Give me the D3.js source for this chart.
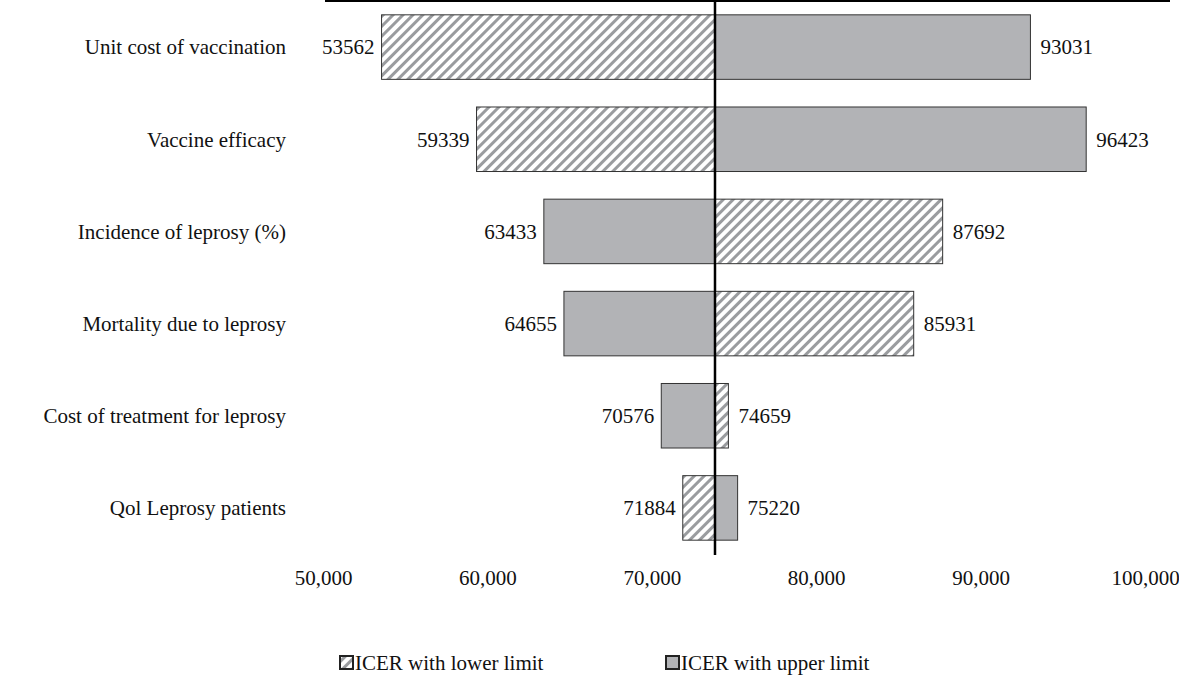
<!DOCTYPE html>
<html>
<head>
<meta charset="utf-8">
<script src="https://cdn.jsdelivr.net/npm/d3@7"></script>
<style>
  body { margin: 0; background: #fff; }
  text { font-family: "Liberation Serif", "Times New Roman", serif; font-size: 21px; fill: #111; }
</style>
</head>
<body>
<div id="chart"></div>
<script>
var categories = ['Unit cost of vaccination', 'Vaccine efficacy', 'Incidence of leprosy (%)',
  'Mortality due to leprosy', 'Cost of treatment for leprosy', 'Qol Leprosy patients'];
var low_values = [53562, 59339, 63433, 64655, 70576, 71884];
var high_values = [93031, 96423, 87692, 85931, 74659, 75220];
// which series is drawn on the left side of the base value
var left_series = ['lower', 'lower', 'upper', 'upper', 'upper', 'lower'];
var base_value = 73844;
var x_ticks = [50000, 60000, 70000, 80000, 90000, 100000];
var legend_labels = ['ICER with lower limit', 'ICER with upper limit'];

var chart_width = 1179;
var chart_height = 677;

var svg = d3.select('#chart')
  .append('svg')
  .attr('width', chart_width)
  .attr('height', chart_height);

// hatch pattern
var pat = svg.append('defs').append('pattern')
  .attr('id', 'hatch')
  .attr('patternUnits', 'userSpaceOnUse')
  .attr('width', 7).attr('height', 7)
  .attr('patternTransform', 'rotate(45)');
pat.append('rect').attr('width', 7).attr('height', 7).attr('fill', '#fff');
pat.append('rect').attr('width', 3).attr('height', 7).attr('fill', '#9a9c9f');

var x_scale = d3.scaleLinear()
  .domain([50000, 100000])
  .range([323, 1145]);

var y_scale = d3.scaleBand()
  .domain(categories)
  .range([1, 554])
  .paddingInner(0.3)
  .paddingOuter(0.15);

// top axis line
svg.append('line')
  .attr('x1', 325).attr('x2', 1170)
  .attr('y1', 1).attr('y2', 1)
  .attr('stroke', '#000').attr('stroke-width', 2);

// bars
var rows = categories.map(function(c, i) {
  return { cat: c, low: low_values[i], high: high_values[i], left: left_series[i] };
});

var g = svg.selectAll('.row').data(rows).enter().append('g');

g.append('rect')
  .attr('x', (d) => x_scale(d.low))
  .attr('y', (d) => y_scale(d.cat))
  .attr('width', (d) => x_scale(base_value) - x_scale(d.low))
  .attr('height', y_scale.bandwidth())
  .attr('fill', (d) => d.left === 'lower' ? 'url(#hatch)' : '#b2b3b6')
  .attr('stroke', '#333').attr('stroke-width', 1);

g.append('rect')
  .attr('x', x_scale(base_value))
  .attr('y', (d) => y_scale(d.cat))
  .attr('width', (d) => x_scale(d.high) - x_scale(base_value))
  .attr('height', y_scale.bandwidth())
  .attr('fill', (d) => d.left === 'lower' ? '#b2b3b6' : 'url(#hatch)')
  .attr('stroke', '#333').attr('stroke-width', 1);

// value labels
g.append('text')
  .attr('x', (d) => x_scale(d.low) - 7)
  .attr('y', (d) => y_scale(d.cat) + y_scale.bandwidth() / 2)
  .attr('dy', '0.35em')
  .attr('text-anchor', 'end')
  .text((d) => d.low);

g.append('text')
  .attr('x', (d) => x_scale(d.high) + 10)
  .attr('y', (d) => y_scale(d.cat) + y_scale.bandwidth() / 2)
  .attr('dy', '0.35em')
  .text((d) => d.high);

// category labels
g.append('text')
  .attr('x', 286)
  .attr('y', (d) => y_scale(d.cat) + y_scale.bandwidth() / 2)
  .attr('dy', '0.35em')
  .attr('text-anchor', 'end')
  .text((d) => d.cat);

// base line
svg.append('line')
  .attr('x1', x_scale(base_value)).attr('x2', x_scale(base_value))
  .attr('y1', 0).attr('y2', 555)
  .attr('stroke', '#000').attr('stroke-width', 2.5);

// x axis labels
var x_axis = d3.axisBottom(x_scale).tickValues(x_ticks).tickSize(0).tickPadding(0);
var ax = svg.append('g')
  .attr('transform', 'translate(0,570)')
  .call(x_axis);
ax.select('.domain').remove();
ax.selectAll('text').attr('font-size', null).attr('font-family', null).attr('fill', '#111');

// legend
var legend = svg.append('g').attr('transform', 'translate(0,663)');
[[340, 'url(#hatch)', legend_labels[0]], [666, '#b2b3b6', legend_labels[1]]].forEach(function(l) {
  legend.append('rect')
    .attr('x', l[0]).attr('y', -7).attr('width', 13).attr('height', 13)
    .attr('fill', l[1]).attr('stroke', '#222').attr('stroke-width', 2);
  legend.append('text')
    .attr('x', l[0] + 15).attr('y', 0).attr('dy', '0.35em')
    .text(l[2]);
});
</script>
</body>
</html>
